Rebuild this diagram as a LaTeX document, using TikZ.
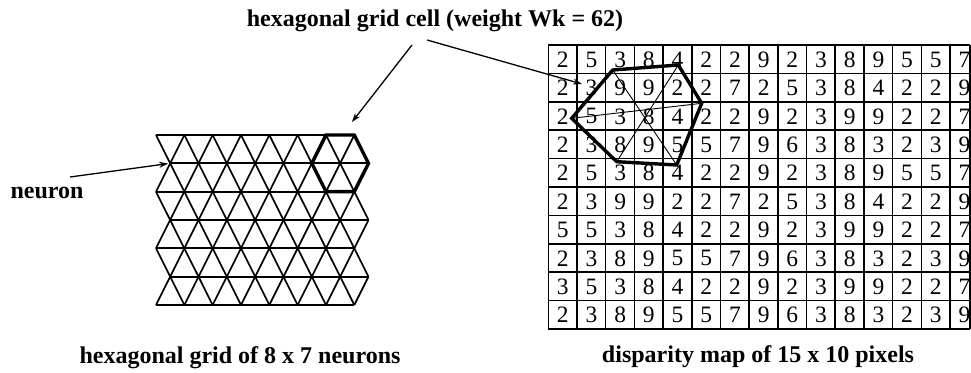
\documentclass[tikz,border=0pt]{standalone}
\usepackage{fontspec}
\setmainfont{Liberation Serif}
\usetikzlibrary{arrows.meta}
\begin{document}
\begin{tikzpicture}[x=1pt,y=-1pt,
  lbl/.style={font=\fontsize{24}{28}\selectfont\bfseries, inner sep=0pt, anchor=base},
  gridline/.style={line width=1.7pt},
  cellline/.style={line width=1.5pt},
  thickhex/.style={line width=3.4pt, line join=miter},
  digit/.style={font=\fontsize{23.5}{26}\selectfont, inner sep=0pt},
  pointer/.style={line width=1.3pt, -{Stealth[length=9pt,width=6pt]}},
  innerline/.style={line width=0.9pt}
]
\useasboundingbox (0,0) rectangle (971,372);
\fill[white] (0,0) rectangle (971,372);

% ---------- triangular (hexagonal) grid of neurons ----------
\foreach \i in {0,...,6}{
  \foreach \k in {0,...,7}{
    \pgfmathsetmacro{\xx}{156 + 14.17*mod(\i,2) + 28.33*\k}
    \pgfmathsetmacro{\yy}{135 + 28.33*\i}
    \coordinate (n-\i-\k) at (\xx,\yy);
  }
}
\foreach \i in {0,...,6}{
  \draw[gridline] (n-\i-0) -- (n-\i-7);
}
\foreach \i in {0,...,5}{
  \pgfmathtruncatemacro{\j}{\i+1}
  \foreach \k in {0,...,7}{
    \draw[gridline] (n-\i-\k) -- (n-\j-\k);
  }
  \ifodd\i\relax
    \foreach \k in {0,...,6}{
      \pgfmathtruncatemacro{\m}{\k+1}
      \draw[gridline] (n-\i-\k) -- (n-\j-\m);
    }
  \else
    \foreach \k in {1,...,7}{
      \pgfmathtruncatemacro{\m}{\k-1}
      \draw[gridline] (n-\i-\k) -- (n-\j-\m);
    }
  \fi
}
\draw[thickhex] (n-0-6) -- (n-0-7) -- (n-1-7) -- (n-2-7) -- (n-2-6) -- (n-1-5) -- cycle;

% ---------- disparity map ----------
\foreach \row [count=\r] in {
  {2,5,3,8,4,2,2,9,2,3,8,9,5,5,7},
  {2,3,9,9,2,2,7,2,5,3,8,4,2,2,9},
  {2,5,3,8,4,2,2,9,2,3,9,9,2,2,7},
  {2,3,8,9,5,5,7,9,6,3,8,3,2,3,9},
  {2,5,3,8,4,2,2,9,2,3,8,9,5,5,7},
  {2,3,9,9,2,2,7,2,5,3,8,4,2,2,9},
  {5,5,3,8,4,2,2,9,2,3,9,9,2,2,7},
  {2,3,8,9,5,5,7,9,6,3,8,3,2,3,9},
  {3,5,3,8,4,2,2,9,2,3,9,9,2,2,7},
  {2,3,8,9,5,5,7,9,6,3,8,3,2,3,9}}{
  \foreach \v [count=\c] in \row {
    \node[digit] (d-\r-\c) at (548.3+28.69*\c-14.2, 45+28.4*\r-13.8) {\v};
  }
}
\foreach \c in {0,...,14}{
  \draw[cellline] (548.3+28.69*\c,45) -- (548.3+28.69*\c,329);
}
\draw[cellline] (970,45) -- (970,329);
\foreach \r in {0,...,10}{
  \draw[cellline] (548.3,45+28.4*\r) -- (970,45+28.4*\r);
}

% hexagonal grid cell on the map
\coordinate (h1) at (612.7,70);
\coordinate (h2) at (678.3,65);
\coordinate (h3) at (701.7,103.3);
\coordinate (h4) at (676.7,165);
\coordinate (h5) at (616.7,161.7);
\coordinate (h6) at (571.7,118.3);
\draw[innerline] (h2) -- (h5);
\draw[innerline] (h1) -- (h4);
\draw[innerline] (h6) -- (h3);
\draw[thickhex] (h1) -- (h2) -- (h3) -- (h4) -- (h5) -- (h6) -- cycle;

% ---------- labels and pointers ----------
\node[lbl] (title) at (435,27) {hexagonal grid cell (weight Wk = 62)};
\node[lbl] (neuron) at (47,198) {neuron};
\node[lbl] (lcap) at (240,363) {hexagonal grid of 8 x 7 neurons};
\node[lbl] (rcap) at (758,362) {disparity map of 15 x 10 pixels};

\coordinate (ta1) at (412,45);
\coordinate (ta2) at (427,40);
\coordinate (la) at (352,122);
\coordinate (ra) at (582,84);
\coordinate (na) at (70,177);
\draw[pointer] (ta1) -- (la);
\draw[pointer] (ta2) -- (ra);
\draw[pointer, shorten >=2pt] (na) -- (n-1-0);
\end{tikzpicture}
\end{document}
